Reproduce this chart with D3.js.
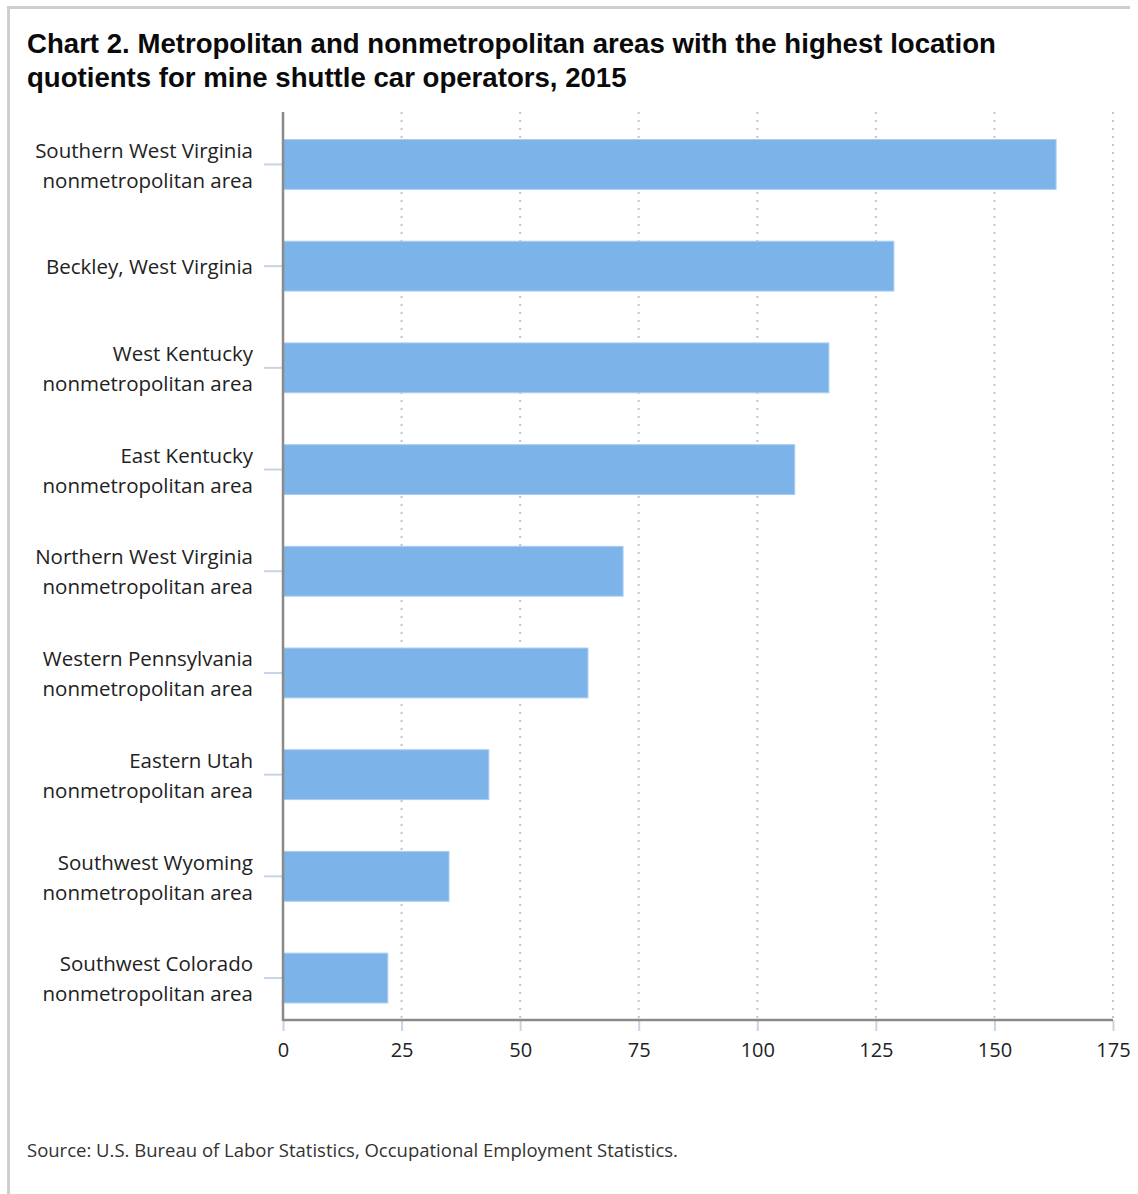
<!DOCTYPE html>
<html>
<head>
<meta charset="utf-8">
<script src="https://cdn.jsdelivr.net/npm/d3@7"></script>
<style>
  html, body { margin: 0; padding: 0; background: #fff; }
  svg { display: block; }
</style>
</head>
<body>
<div id="chart"></div>
<script>
// Areas (label lines) and their location quotients
const areas = [
  ["Southern West Virginia", "nonmetropolitan area"],
  ["Beckley, West Virginia"],
  ["West Kentucky", "nonmetropolitan area"],
  ["East Kentucky", "nonmetropolitan area"],
  ["Northern West Virginia", "nonmetropolitan area"],
  ["Western Pennsylvania", "nonmetropolitan area"],
  ["Eastern Utah", "nonmetropolitan area"],
  ["Southwest Wyoming", "nonmetropolitan area"],
  ["Southwest Colorado", "nonmetropolitan area"]
];
const quotients = [163.0, 128.8, 115.1, 107.9, 71.7, 64.3, 43.4, 35.0, 22.1];
const xTicks = [0, 25, 50, 75, 100, 125, 150, 175];
const titleLines = [
  "Chart 2. Metropolitan and nonmetropolitan areas with the highest location",
  "quotients for mine shuttle car operators, 2015"
];
const sourceNote = "Source: U.S. Bureau of Labor Statistics, Occupational Employment Statistics.";

const W = 1138, H = 1194;
const plot = { left: 283, right: 1113, top: 112, bottom: 1020 };
const labelFont = "'Open Sans', 'Noto Sans', sans-serif";

const svg = d3.select("#chart").append("svg")
  .attr("width", W).attr("height", H);

// Frame edges
svg.append("line").attr("x1", 7).attr("x2", 1130).attr("y1", 7.5).attr("y2", 7.5)
  .attr("stroke", "#cfcfcf").attr("stroke-width", 3);
svg.append("line").attr("x1", 8.5).attr("x2", 8.5).attr("y1", 6).attr("y2", H)
  .attr("stroke", "#cfcfcf").attr("stroke-width", 3);

// Title
svg.append("text")
  .attr("font-family", "'Liberation Sans', Arial, sans-serif")
  .attr("font-weight", "bold").attr("font-size", 27.6).attr("fill", "#0a0a0a")
  .selectAll("tspan").data(titleLines).join("tspan")
  .attr("x", 27).attr("y", (d, i) => 53 + i * 34)
  .text(d => d);

const keys = areas.map(d => d.join(" "));

const x = d3.scaleLinear().domain([0, 175]).range([plot.left, plot.right]);
const step = 101.7;
const y = d3.scaleBand().domain(keys).range([113.6, 113.6 + keys.length * step])
  .paddingInner(0.51).paddingOuter(0.255);

// Dotted vertical gridlines
svg.append("g").selectAll("line").data(xTicks.filter(t => t > 0)).join("line")
  .attr("x1", d => x(d)).attr("x2", d => x(d))
  .attr("y1", plot.top).attr("y2", plot.bottom)
  .attr("stroke", "#c4c4c4").attr("stroke-width", 2)
  .attr("stroke-dasharray", "2,6");

// Bars
svg.append("g").selectAll("rect").data(quotients).join("rect")
  .attr("x", x(0))
  .attr("y", (d, i) => y(keys[i]))
  .attr("width", d => x(d) - x(0))
  .attr("height", y.bandwidth())
  .attr("fill", "#7cb4ea")
  .attr("stroke", "#a9cdf2").attr("stroke-width", 1);

// Category ticks
svg.append("g").selectAll("line").data(keys).join("line")
  .attr("x1", 264).attr("x2", plot.left)
  .attr("y1", d => y(d) + y.bandwidth() / 2)
  .attr("y2", d => y(d) + y.bandwidth() / 2)
  .attr("stroke", "#c5d5e6").attr("stroke-width", 2);

// Category labels
const labels = svg.append("g")
  .attr("font-family", labelFont)
  .attr("font-size", 20.5).attr("fill", "#222").attr("text-anchor", "end");
areas.forEach((lines, i) => {
  const cy = y(keys[i]) + y.bandwidth() / 2 + 1;
  const lh = 30;
  const t = labels.append("text");
  lines.forEach((ln, j) => {
    t.append("tspan").attr("x", 253)
      .attr("y", cy + (j - (lines.length - 1) / 2) * lh)
      .attr("dy", "0.35em").text(ln);
  });
});

// X axis
const xAxis = svg.append("g").attr("transform", `translate(0,${plot.bottom})`)
  .call(d3.axisBottom(x).tickValues(xTicks).tickSize(11).tickPadding(12));
xAxis.select(".domain").remove();
xAxis.selectAll(".tick line").attr("stroke", "#c5d5e6").attr("stroke-width", 2);
xAxis.selectAll(".tick text")
  .attr("font-family", labelFont)
  .attr("font-size", 20).attr("fill", "#222");

// Axis lines
svg.append("line").attr("x1", plot.left).attr("x2", plot.right)
  .attr("y1", plot.bottom).attr("y2", plot.bottom)
  .attr("stroke", "#8a8a8a").attr("stroke-width", 2.5);
svg.append("line").attr("x1", plot.left).attr("x2", plot.left)
  .attr("y1", plot.top).attr("y2", plot.bottom + 1)
  .attr("stroke", "#8a8a8a").attr("stroke-width", 2.5);

// Source note
svg.append("text").attr("x", 27).attr("y", 1157)
  .attr("font-family", labelFont)
  .attr("font-size", 18.5).attr("fill", "#333")
  .text(sourceNote);
</script>
</body>
</html>
